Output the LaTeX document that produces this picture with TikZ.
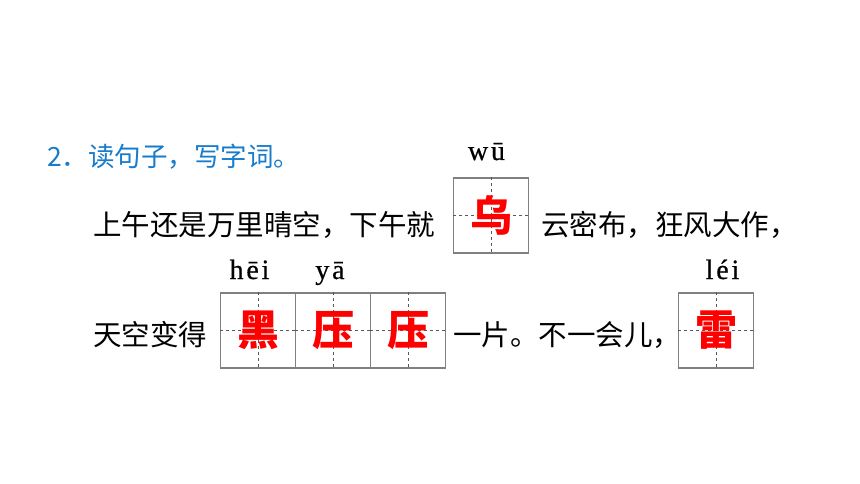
\documentclass[tikz,border=0pt]{standalone}
\usepackage{fontspec}
\setmainfont{Liberation Serif}
\newfontfamily\cjk{Noto Sans CJK SC}
\newfontfamily\pinyin[LetterSpace=10,FakeBold=0.6]{Liberation Serif}
\definecolor{titleblue}{RGB}{24,124,204}
\definecolor{boxgray}{RGB}{128,128,128}

\begin{document}
\begin{tikzpicture}[x=1pt,y=-1pt]
        \useasboundingbox[fill=white] (0,0) rectangle (860,484);

        \node[anchor=base west, inner sep=0pt, text=titleblue, font=\cjk\fontsize{26.5}{28}\selectfont] (title) at (47,167) {2．读句子，写字词。};

        \begin{scope}[every node/.style={anchor=base west, inner sep=0pt, font=\cjk\fontsize{28.5}{30}\selectfont}]
            \node (L1a) at (93,235) {上午还是万里晴空，下午就};
            \node (L1b) at (541,235) {云密布，狂风大作，};
            \node (L2a) at (93,345) {天空变得};
            \node (L2b) at (453,345) {一片。不一会儿，};
        \end{scope}

        \begin{scope}[every node/.style={draw=boxgray, line width=1.2pt, minimum size=75pt, inner sep=0pt}]
            \node (wu) at (491,215.5) {};
            \node (hei) at (258,330.5) {};
            \node (ya1) at (333,330.5) {};
            \node (ya2) at (408,330.5) {};
            \node (lei) at (716,330.5) {};
        \end{scope}

        \begin{scope}[every path/.style={draw=black!65, dashed, line width=0.8pt}]
            \foreach \b in {wu,hei,ya1,ya2,lei} {
                \draw (\b.north) -- (\b.south);
                \draw (\b.west) -- (\b.east);
            }
        \end{scope}

        \begin{scope}[every node/.style={inner sep=0pt, text=red, font=\cjk\bfseries\fontsize{42}{42}\selectfont}]
            \node (Cwu) at (wu) {乌};
            \node (Chei) at (hei) {黑};
            \node (Cya1) at (ya1) {压};
            \node (Cya2) at (ya2) {压};
            \node (Clei) at (lei) {雷};
        \end{scope}

        \begin{scope}[every node/.style={anchor=base, inner sep=0pt, font=\pinyin\fontsize{28}{30}\selectfont}]
            \node (Pwu) at (486.5,160) {wū};
            \node (Phei) at (249.5,279) {hēi};
            \node (Pya) at (330,279) {yā};
            \node (Plei) at (722.5,279) {léi};
        \end{scope}
    \end{tikzpicture}
\end{document}
